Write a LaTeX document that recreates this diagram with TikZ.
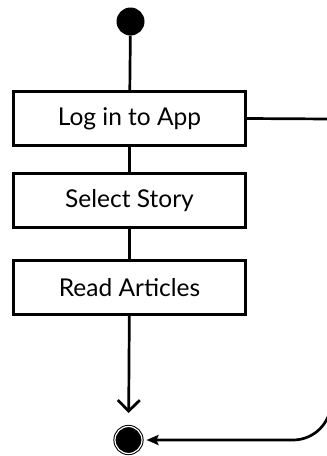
\documentclass[tikz,border=0pt]{standalone}
\usepackage{fontspec}
\setmainfont{Lato}
\usetikzlibrary{arrows.meta}
\tikzset{
    action/.style={draw, line width=3pt, rectangle, minimum width=232pt, minimum height=54pt, inner sep=0pt, font=\fontsize{24.5}{28}\selectfont},
    startdot/.style={circle, fill=black, minimum size=28pt, inner sep=0pt},
    enddot/.style={circle, fill=black, draw=black, line width=1pt, double=white, double distance=1.2pt, minimum size=27pt, inner sep=0pt},
    flow/.style={line width=2.7pt}
}
\begin{document}
\begin{tikzpicture}[x=1pt, y=-1pt]
        \useasboundingbox (0,0) rectangle (327,456);

        \node[startdot] (start) at (130.5,21.5) {};
        \node[action] (login) at (129.5,118.5) {Log in to App};
        \node[action] (select) at (129.5,200.5) {Select Story};
        \node[action] (read) at (129.5,287.5) {Read Articles};
        \node[enddot] (stop) at (128.5,440) {};
        \coordinate (turn) at (331,119);

        \draw[flow] (start) -- (login);
        \draw[flow] (login) -- (select);
        \draw[flow] (select) -- (read);
        \draw[flow, -{Straight Barb[length=11pt, width=22pt]}, shorten >=13pt] (read) -- (stop);
        \draw[flow, -{Stealth[length=12pt, width=10pt, inset=2pt]}, shorten >=4pt] (login.east) -- (turn) [rounded corners=38pt] |- (stop.east);
    \end{tikzpicture}
\end{document}
